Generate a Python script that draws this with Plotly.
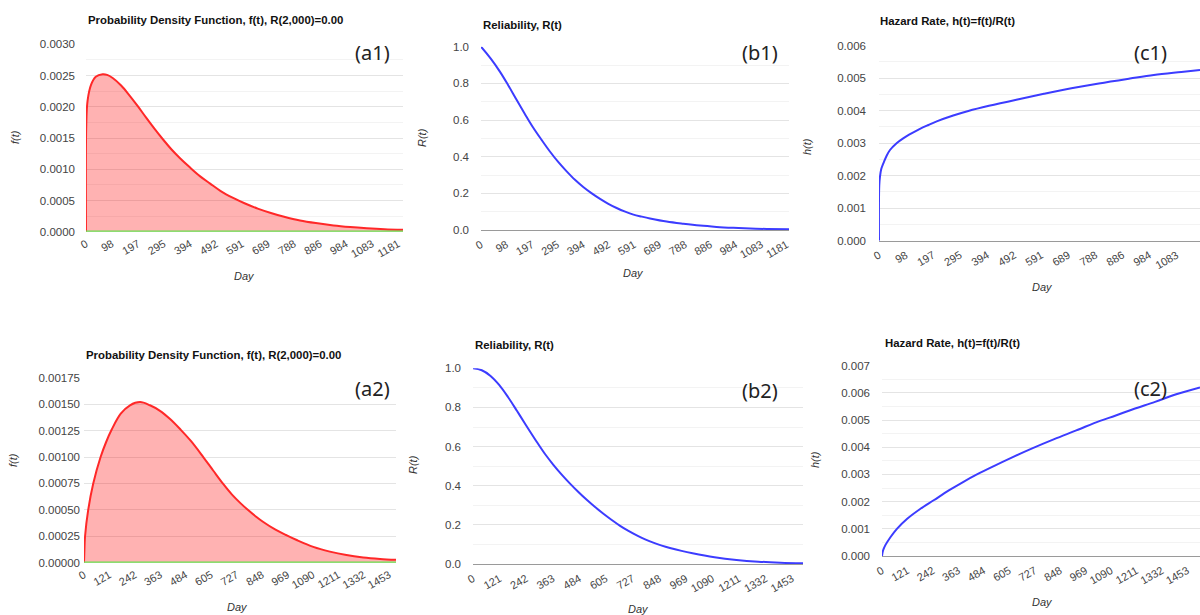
import plotly.graph_objects as go

# ---------------- data ----------------
row1_ticks = ["0", "98", "197", "295", "394", "492", "591", "689", "788", "886", "984", "1083", "1181"]
row2_ticks = ["0", "121", "242", "363", "484", "605", "727", "848", "969", "1090", "1211", "1332", "1453"]

a1_day = [0, 1, 6, 19, 37, 63, 80, 101, 133, 165, 196, 227, 259, 291, 323, 355, 393, 431, 470,
          510, 557, 600, 650, 700, 750, 810, 870, 937, 1000, 1063, 1130, 1200]
a1_f = [0, 0.0017, 0.0021, 0.00235, 0.00248, 0.00252, 0.00251, 0.00246, 0.00234, 0.00218,
        0.00201, 0.00183, 0.00165, 0.00148, 0.00132, 0.00118, 0.00103, 0.00089, 0.00077, 0.00065,
        0.00054, 0.000455, 0.00037, 0.0003, 0.00024, 0.00018, 0.000138, 0.000101, 0.000076,
        0.000057, 0.000041, 0.00003]

b1_day = [0, 37, 73, 105, 138, 170, 202, 235, 267, 299, 331, 363, 395, 428, 460, 492, 524, 557,
          589, 621, 653, 717, 782, 846, 910, 975, 1040, 1104, 1190]
b1_R = [1.0, 0.936, 0.864, 0.79, 0.709, 0.632, 0.558, 0.49, 0.427, 0.37, 0.32, 0.274, 0.235,
        0.2, 0.17, 0.143, 0.12, 0.1, 0.084, 0.073, 0.063, 0.046, 0.034, 0.024, 0.017, 0.012,
        0.008, 0.0055, 0.0035]

c1_day = [0, 1, 3.6, 8, 15.8, 27, 40, 64, 88, 120, 149, 180, 210, 270, 325, 400, 500, 600, 700,
          800, 913, 1000, 1100, 1168]
c1_h = [0, 0.0017, 0.00197, 0.0022, 0.00238, 0.0026, 0.00279, 0.003, 0.00315, 0.00331, 0.00344,
        0.00356, 0.00367, 0.00385, 0.00399, 0.00415, 0.00434, 0.00452, 0.00469, 0.00484, 0.00499,
        0.0051, 0.00519, 0.00525]

a2_day = [0, 2, 5, 20, 44, 79, 105, 132, 175, 219, 267, 314, 360, 410, 460, 510, 568, 616, 663,
          705, 745, 783, 820, 854, 910, 965, 1013, 1092, 1171, 1250, 1330, 1410, 1486]
a2_f = [0, 0.00012, 0.00025, 0.0005, 0.00075, 0.001, 0.00114, 0.00126, 0.00141, 0.00149, 0.00152,
        0.00149, 0.00144, 0.00136, 0.00126, 0.00115, 0.001, 0.00087, 0.000745, 0.000644, 0.000564,
        0.000496, 0.000435, 0.000385, 0.000315, 0.00026, 0.000215, 0.00015, 0.000105, 0.000072,
        0.00005, 0.000036, 0.000027]

b2_day = [0, 40, 80, 120, 160, 200, 240, 290, 328, 366, 404, 442, 480, 518, 556, 594, 632,
          670, 708, 746, 784, 821, 860, 897, 950, 1000, 1100, 1200, 1300, 1400, 1503]
b2_R = [1.0, 0.99, 0.961, 0.914, 0.852, 0.783, 0.712, 0.625, 0.562, 0.507, 0.457, 0.411,
        0.368, 0.328, 0.291, 0.257, 0.225, 0.195, 0.169, 0.146, 0.126, 0.109, 0.094, 0.082,
        0.067, 0.055, 0.035, 0.021, 0.012, 0.007, 0.004]

c2_day = [0, 5, 16, 40, 71, 120, 180, 246, 320, 390, 452, 530, 620, 715, 820, 925, 1038, 1110,
          1195, 1300, 1405, 1514]
c2_h = [0, 0.0002, 0.0004, 0.00069, 0.001, 0.00137, 0.00172, 0.00205, 0.00242, 0.00274, 0.003,
        0.0033, 0.00363, 0.00396, 0.0043, 0.00462, 0.00497, 0.00516, 0.0054, 0.00567, 0.00596,
        0.0062]

titles = ["Probability Density Function, f(t), R(2,000)=0.00", "Reliability, R(t)",
          "Hazard Rate, h(t)=f(t)/R(t)"] * 2
ylabels = ["f(t)", "R(t)", "h(t)"] * 2
tags = ["(a1)", "(b1)", "(c1)", "(a2)", "(b2)", "(c2)"]

# ---------------- layout geometry (pixels) ----------------
W, H = 1200, 615
FONT = "Arial, 'Liberation Sans', sans-serif"

# plot boxes: x_left, x_right, y_top, y_bottom
boxes = [
    (86, 403, 44.3, 231.7),
    (481, 789, 46.7, 230.0),
    (879, 1200, 45.7, 240.7),
    (84, 396, 377.8, 562.7),
    (473, 803, 368.3, 564.0),
    (882, 1200, 365.7, 556.0),
]
xranges = [1200, 1190, 1168, 1486, 1503, 1514]
yranges = [0.003, 1.0, 0.006, 0.00175, 1.0, 0.007]
ydticks = [0.0005, 0.2, 0.001, 0.00025, 0.2, 0.001]
yminor = [0.00025, 0.1, 0.0005, None, 0.1, 0.0005]
yfmts = [".4f", ".1f", ".3f", ".5f", ".1f", ".3f"]
ystand = [10, 11, 12, 3, 11, 11]
title_pos = [(86, 20), (481, 25), (878, 21), (84, 355), (473, 345), (883, 343)]
ylab_pos = [(15, 137), (422, 138), (807, 147), (13, 460), (413, 465), (815, 460)]
day_pos = [(244, 276), (633, 273), (1042, 287), (237, 607), (638, 609), (1042, 602)]
tag_pos = [(372, 52), (760, 52), (1150, 52), (372, 388), (760, 390), (1150, 388)]

RED = "rgb(255,40,40)"
BLUE = "rgb(60,60,255)"
GREEN = "rgb(102,225,80)"

series = [(a1_day, a1_f), (b1_day, b1_R), (c1_day, c1_h),
          (a2_day, a2_f), (b2_day, b2_R), (c2_day, c2_h)]

fig = go.Figure()
layout = dict(width=W, height=H, autosize=False, margin=dict(l=0, r=0, t=0, b=0, pad=0),
              paper_bgcolor="white", plot_bgcolor="white", showlegend=False,
              font=dict(family=FONT, color="#444"))
annotations = []


def px_x(v):
    return v / W


def px_y(v):
    return 1 - v / H


for i in range(6):
    k = i + 1
    xs = "" if k == 1 else str(k)
    xl, xr, yt, yb = boxes[i]
    days, vals = series[i]
    pdf = i in (0, 3)
    ticks = row1_ticks if i < 3 else row2_ticks

    if pdf:
        fig.add_trace(go.Scatter(x=days, y=vals, mode="lines", fill="tozeroy",
                                 fillcolor="rgba(255,0,0,0.3)",
                                 line=dict(color=RED, width=2, shape="spline", smoothing=1.0),
                                 xaxis="x" + xs, yaxis="y" + xs))
        fig.add_trace(go.Scatter(x=[days[0], days[-1]], y=[0, 0], mode="lines",
                                 line=dict(color=GREEN, width=2.2),
                                 xaxis="x" + xs, yaxis="y" + xs))
    else:
        fig.add_trace(go.Scatter(x=days, y=vals, mode="lines",
                                 line=dict(color=BLUE, width=2, shape="spline", smoothing=1.0),
                                 xaxis="x" + xs, yaxis="y" + xs))

    layout["xaxis" + xs] = dict(
        domain=[px_x(xl), px_x(xr)], range=[0, xranges[i]], anchor="y" + xs,
        tickvals=[float(t) for t in ticks], ticktext=ticks, tickangle=-30,
        tickfont=dict(size=11, color="#444", family=FONT), ticks="",
        ticklabelstandoff=3, automargin=False,
        showgrid=False, zeroline=False,
        showline=not pdf, linecolor="#9a9a9a", linewidth=1.3,
    )
    ydict = dict(
        domain=[px_y(yb), px_y(yt)], range=[0, yranges[i]], anchor="x" + xs,
        dtick=ydticks[i], tick0=0, tickformat=yfmts[i],
        tickfont=dict(size=11.5, color="#444", family=FONT), ticks="",
        ticklabelstandoff=ystand[i], automargin=False,
        showgrid=True, gridcolor="#e4e4e4", gridwidth=1, zeroline=False, showline=False,
    )
    if yminor[i]:
        ydict["minor"] = dict(dtick=yminor[i], tick0=0, showgrid=True, gridcolor="#f3f3f3",
                              gridwidth=1)
    layout["yaxis" + xs] = ydict

    tx, ty = title_pos[i]
    annotations.append(dict(text="<b>" + titles[i] + "</b>", x=px_x(tx), y=px_y(ty),
                            xref="paper", yref="paper", xanchor="left", yanchor="middle",
                            showarrow=False, font=dict(size=11.4, color="#111", family=FONT)))
    lx, ly = ylab_pos[i]
    annotations.append(dict(text="<i>" + ylabels[i] + "</i>", x=px_x(lx), y=px_y(ly),
                            xref="paper", yref="paper", xanchor="center", yanchor="middle",
                            textangle=-90, showarrow=False,
                            font=dict(size=11, color="#333", family=FONT)))
    dx, dy = day_pos[i]
    annotations.append(dict(text="<i>Day</i>", x=px_x(dx), y=px_y(dy),
                            xref="paper", yref="paper", xanchor="center", yanchor="middle",
                            showarrow=False, font=dict(size=11, color="#333", family=FONT)))
    gx, gy = tag_pos[i]
    annotations.append(dict(text=tags[i], x=px_x(gx), y=px_y(gy),
                            xref="paper", yref="paper", xanchor="center", yanchor="middle",
                            showarrow=False,
                            font=dict(size=20, color="#222", family="'Noto Sans', 'Open Sans', sans-serif")))

layout["annotations"] = annotations
fig.update_layout(**layout)
fig.write_html("out.html", config={"displayModeBar": False},
               post_script="document.body.style.margin='0';document.body.style.padding='0';"
                           "document.documentElement.style.overflow='hidden';")
